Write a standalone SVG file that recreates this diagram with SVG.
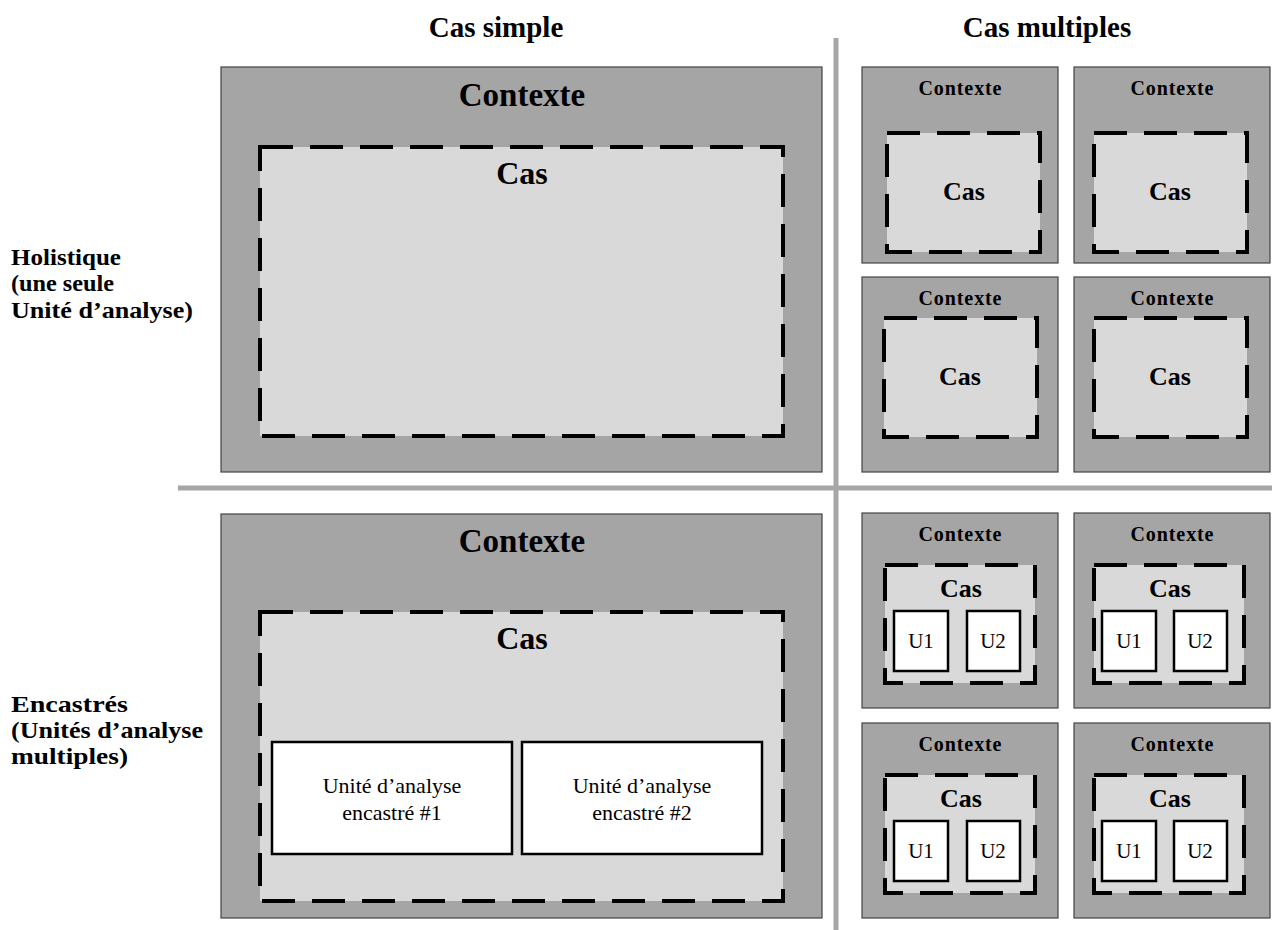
<svg xmlns="http://www.w3.org/2000/svg" width="1272" height="930" viewBox="0 0 1272 930">
<style>
text{font-family:"Liberation Serif","Times New Roman",serif;fill:#000}
.ctx{fill:#a5a5a5;stroke:#444;stroke-width:1.2}
.cas{fill:#d9d9d9;stroke:#000;stroke-width:4;stroke-dasharray:33 17}
.u{fill:#fff;stroke:#000;stroke-width:2.5}
.sep{stroke:#a6a6a6;stroke-width:5;fill:none}
.h{font-size:29px;font-weight:bold;text-anchor:middle}
.lbl{font-size:24px;font-weight:bold}
.bigc{font-size:33px;font-weight:bold;text-anchor:middle}
.bigcas{font-size:32px;font-weight:bold;text-anchor:middle}
.smc{font-size:20px;font-weight:bold;text-anchor:middle}
.smcas{font-size:26px;font-weight:bold;text-anchor:middle}
.ut{font-size:22px;text-anchor:middle}
.us{font-size:21px;text-anchor:middle}
</style>
<rect width="1272" height="930" fill="#fff"/>
<g id="headers">
<text class="h" x="496" y="37">Cas simple</text>
<text class="h" x="1047" y="37">Cas multiples</text>
<text class="lbl" x="11" y="265" textLength="110" lengthAdjust="spacingAndGlyphs">Holistique</text>
<text class="lbl" x="11" y="291" textLength="103" lengthAdjust="spacingAndGlyphs">(une seule</text>
<text class="lbl" x="11" y="318" textLength="182" lengthAdjust="spacingAndGlyphs">Unité d’analyse)</text>
<text class="lbl" x="11" y="712" textLength="117" lengthAdjust="spacingAndGlyphs">Encastrés</text>
<text class="lbl" x="11" y="738" textLength="192" lengthAdjust="spacingAndGlyphs">(Unités d’analyse</text>
<text class="lbl" x="11" y="764" textLength="117" lengthAdjust="spacingAndGlyphs">multiples)</text>
</g>
<g id="connectors">
<line class="sep" x1="836" y1="38" x2="836" y2="930"/>
<line class="sep" x1="178" y1="488" x2="1272" y2="488"/>
</g>
<g id="single-holistic">
<rect class="ctx" x="221" y="67" width="601" height="405"/>
<text class="bigc" x="522" y="106">Contexte</text>
<rect class="cas" x="260" y="147" width="523" height="289"/>
<text class="bigcas" x="522" y="184">Cas</text>
</g>
<g id="single-embedded">
<rect class="ctx" x="221" y="514" width="601" height="404"/>
<text class="bigc" x="522" y="552">Contexte</text>
<rect class="cas" x="260" y="612" width="523" height="289"/>
<text class="bigcas" x="522" y="649">Cas</text>
<rect class="u" x="272" y="742" width="240" height="112"/>
<text class="ut" x="392" y="793">Unité d’analyse</text>
<text class="ut" x="392" y="820">encastré #1</text>
<rect class="u" x="522" y="742" width="240" height="112"/>
<text class="ut" x="642" y="793">Unité d’analyse</text>
<text class="ut" x="642" y="820">encastré #2</text>
</g>
<g id="multi-holistic-1">
<rect class="ctx" x="862" y="67" width="196" height="196"/>
<text class="smc" x="960" y="95" textLength="83" lengthAdjust="spacing">Contexte</text>
<rect class="cas" x="887" y="133" width="153" height="119"/>
<text class="smcas" x="964" y="200">Cas</text>
</g>
<g id="multi-holistic-2">
<rect class="ctx" x="1074" y="67" width="196" height="196"/>
<text class="smc" x="1172" y="95" textLength="83" lengthAdjust="spacing">Contexte</text>
<rect class="cas" x="1094" y="133" width="153" height="119"/>
<text class="smcas" x="1170" y="200">Cas</text>
</g>
<g id="multi-holistic-3">
<rect class="ctx" x="862" y="277" width="196" height="195"/>
<text class="smc" x="960" y="305" textLength="83" lengthAdjust="spacing">Contexte</text>
<rect class="cas" x="884" y="318" width="153" height="119"/>
<text class="smcas" x="960" y="385">Cas</text>
</g>
<g id="multi-holistic-4">
<rect class="ctx" x="1074" y="277" width="196" height="195"/>
<text class="smc" x="1172" y="305" textLength="83" lengthAdjust="spacing">Contexte</text>
<rect class="cas" x="1094" y="318" width="153" height="119"/>
<text class="smcas" x="1170" y="385">Cas</text>
</g>
<g id="multi-embedded-1">
<rect class="ctx" x="862" y="513" width="196" height="195"/>
<text class="smc" x="960" y="541" textLength="83" lengthAdjust="spacing">Contexte</text>
<rect class="cas" x="885" y="565" width="150" height="118"/>
<text class="smcas" x="961" y="597">Cas</text>
<rect class="u" x="894" y="611" width="54" height="60"/>
<text class="us" x="921" y="648">U1</text>
<rect class="u" x="967" y="611" width="53" height="60"/>
<text class="us" x="993" y="648">U2</text>
</g>
<g id="multi-embedded-2">
<rect class="ctx" x="1074" y="513" width="196" height="195"/>
<text class="smc" x="1172" y="541" textLength="83" lengthAdjust="spacing">Contexte</text>
<rect class="cas" x="1094" y="565" width="150" height="118"/>
<text class="smcas" x="1170" y="597">Cas</text>
<rect class="u" x="1102" y="611" width="54" height="60"/>
<text class="us" x="1129" y="648">U1</text>
<rect class="u" x="1174" y="611" width="53" height="60"/>
<text class="us" x="1200" y="648">U2</text>
</g>
<g id="multi-embedded-3">
<rect class="ctx" x="862" y="723" width="196" height="195"/>
<text class="smc" x="960" y="751" textLength="83" lengthAdjust="spacing">Contexte</text>
<rect class="cas" x="885" y="775" width="150" height="118"/>
<text class="smcas" x="961" y="807">Cas</text>
<rect class="u" x="894" y="821" width="54" height="60"/>
<text class="us" x="921" y="858">U1</text>
<rect class="u" x="967" y="821" width="53" height="60"/>
<text class="us" x="993" y="858">U2</text>
</g>
<g id="multi-embedded-4">
<rect class="ctx" x="1074" y="723" width="196" height="195"/>
<text class="smc" x="1172" y="751" textLength="83" lengthAdjust="spacing">Contexte</text>
<rect class="cas" x="1094" y="775" width="150" height="118"/>
<text class="smcas" x="1170" y="807">Cas</text>
<rect class="u" x="1102" y="821" width="54" height="60"/>
<text class="us" x="1129" y="858">U1</text>
<rect class="u" x="1174" y="821" width="53" height="60"/>
<text class="us" x="1200" y="858">U2</text>
</g>
</svg>
